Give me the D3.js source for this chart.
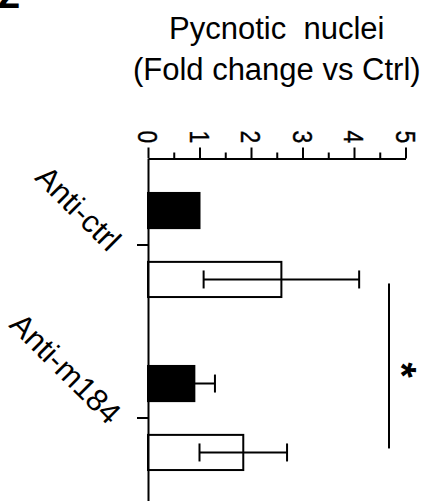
<!DOCTYPE html>
<html>
<head>
<meta charset="utf-8">
<script src="https://cdn.jsdelivr.net/npm/d3@7"></script>
<style>
  body { margin: 0; background: #fff; }
  svg { display: block; font-family: "Liberation Sans", Arial, sans-serif; }
</style>
</head>
<body>
<div class="chart"></div>
<script>
// data
const categories = ['Anti-ctrl', 'Anti-m184'];
const seriesNames = ['Control', 'Treated']; // filled bar, open bar
const filledMeans = [1.0, 0.90];
const filledErrors = [0, 0.40];
const openMeans = [2.59, 1.85];
const openErrors = [1.51, 0.85];
const majorTicks = [0, 1, 2, 3, 4, 5];
const minorTicks = [0.5, 1.5, 2.5, 3.5, 4.5];
const titleLines = ['Pycnotic  nuclei', '(Fold change vs Ctrl)'];
const sigValue = 4.68;
const sigLabel = '*';
const panelLabel = '2';

const width = 431, height = 501;

const svg = d3.select('.chart').append('svg')
  .attr('width', width)
  .attr('height', height);

// scales
const x = d3.scaleLinear().domain([0, 5]).range([148, 405.5]);
const y = d3.scaleBand().domain(categories).range([158.5, 504.5]);
const inner = d3.scaleBand().domain(seriesNames)
  .range([0, y.bandwidth()])
  .paddingInner(0.49)
  .paddingOuter(0.5);

// rows: one per bar
const rows = [];
categories.forEach((c, i) => {
  rows.push({ cat: c, series: seriesNames[0], mean: filledMeans[i], err: filledErrors[i], fill: '#000' });
  rows.push({ cat: c, series: seriesNames[1], mean: openMeans[i], err: openErrors[i], fill: '#fff' });
});
const barY = d => y(d.cat) + inner(d.series);
const barMid = d => barY(d) + inner.bandwidth() / 2;

// panel letter, mostly clipped off the top edge in the source figure
svg.append('text')
  .attr('x', -2)
  .attr('y', 8)
  .attr('font-size', 40)
  .attr('font-weight', 'bold')
  .text(panelLabel);

// title
const cx = (x(0) + x(5)) / 2;
svg.append('text')
  .attr('y', 39)
  .attr('text-anchor', 'middle')
  .attr('font-size', 31)
  .selectAll('tspan')
  .data(titleLines)
  .join('tspan')
  .attr('x', cx)
  .attr('dy', (d, i) => i === 0 ? 0 : 41)
  .style('white-space', 'pre')
  .text(d => d);

// bars
svg.append('g')
  .selectAll('rect')
  .data(rows)
  .join('rect')
  .attr('x', x(0))
  .attr('y', barY)
  .attr('width', d => x(d.mean) - x(0))
  .attr('height', inner.bandwidth())
  .attr('fill', d => d.fill)
  .attr('stroke', '#000')
  .attr('stroke-width', 2);

// error bars
const capH = 18;
const eb = svg.append('g')
  .attr('stroke', '#000')
  .attr('stroke-width', 2)
  .selectAll('g')
  .data(rows.filter(d => d.err > 0))
  .join('g');
eb.append('line')
  .attr('x1', d => x(d.mean - d.err))
  .attr('x2', d => x(d.mean + d.err))
  .attr('y1', barMid)
  .attr('y2', barMid);
eb.selectAll('line.cap')
  .data(d => [d.mean - d.err, d.mean + d.err].map(v => ({ v, m: barMid(d) })))
  .join('line')
  .attr('class', 'cap')
  .attr('x1', d => x(d.v))
  .attr('x2', d => x(d.v))
  .attr('y1', d => d.m - capH / 2)
  .attr('y2', d => d.m + capH / 2);

// top value axis: major ticks with labels, minor ticks without
const xAxis = svg.append('g')
  .attr('transform', `translate(0,${y.range()[0]})`)
  .call(d3.axisTop(x).tickValues(majorTicks).tickSize(11).tickSizeOuter(0).tickFormat(d3.format('d')));
xAxis.select('.domain').attr('stroke-width', 2);
xAxis.selectAll('.tick line').attr('stroke-width', 2);
xAxis.selectAll('.tick text')
  .attr('x', 0)
  .attr('y', 0)
  .attr('dy', '0.36em')
  .attr('text-anchor', 'middle')
  .attr('font-size', 28)
  .attr('font-family', null)
  .attr('stroke', '#000')
  .attr('stroke-width', 0.4)
  .attr('transform', 'translate(0,-21.5) rotate(90) scale(0.82,1)');

const minor = svg.append('g')
  .attr('transform', `translate(0,${y.range()[0]})`)
  .call(d3.axisTop(x).tickValues(minorTicks).tickSize(6).tickFormat(''));
minor.select('.domain').remove();
minor.selectAll('.tick line').attr('stroke-width', 2);

// left category axis
const yAxis = svg.append('g')
  .attr('transform', `translate(${x(0)},0)`)
  .call(d3.axisLeft(y).tickSize(11).tickSizeOuter(0));
yAxis.select('.domain').attr('stroke-width', 2);
yAxis.selectAll('.tick line').attr('stroke-width', 2);
yAxis.selectAll('.tick text')
  .attr('x', 0)
  .attr('dy', 0)
  .attr('text-anchor', 'end')
  .attr('font-size', 31)
  .attr('font-family', null)
  .attr('transform', 'translate(-40,8) rotate(45)');

// significance bracket between the open bars
const sigRows = rows.filter(d => d.series === seriesNames[1]);
const sy1 = barMid(sigRows[0]) + 4;
const sy2 = barMid(sigRows[1]) - 4;
svg.append('line')
  .attr('x1', x(sigValue))
  .attr('x2', x(sigValue))
  .attr('y1', sy1)
  .attr('y2', sy2)
  .attr('stroke', '#000')
  .attr('stroke-width', 2);
svg.append('text')
  .attr('text-anchor', 'middle')
  .attr('font-size', 40)
  .attr('font-weight', 'bold')
  .attr('transform', `translate(${x(sigValue) - 1},${(sy1 + sy2) / 2 + 4}) rotate(90)`)
  .text(sigLabel);
</script>
</body>
</html>
